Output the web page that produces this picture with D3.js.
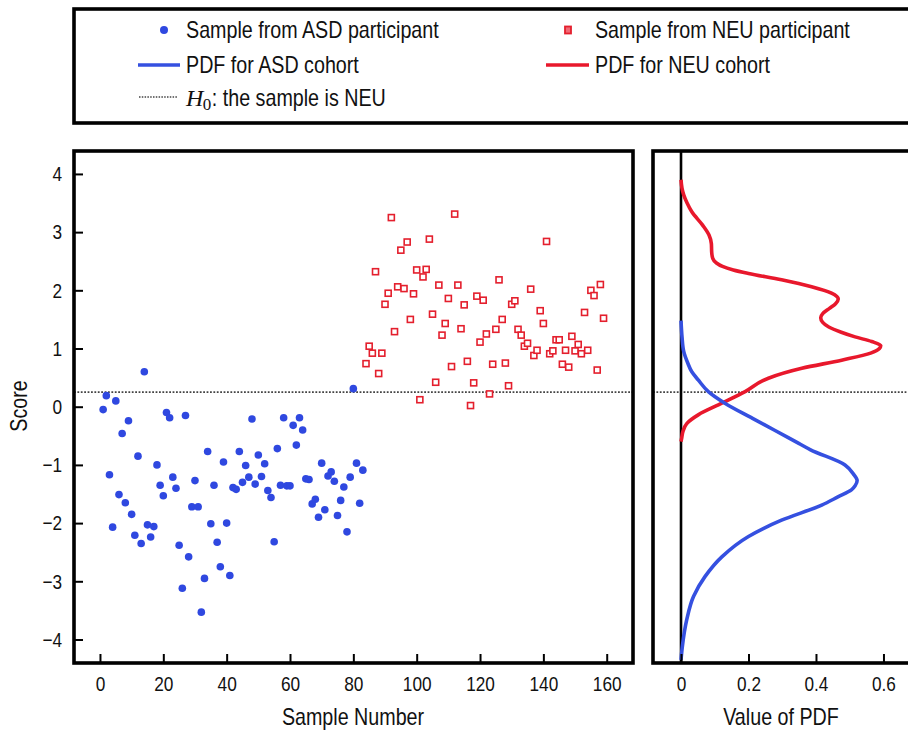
<!DOCTYPE html>
<html>
<head>
<meta charset="utf-8">
<script src="https://cdn.jsdelivr.net/npm/d3@7"></script>
<style>
  body { margin: 0; background: #fff; }
  svg { display: block; font-family: "Liberation Sans", Arial, Helvetica, sans-serif; }
</style>
</head>
<body>
<script>
// Scores of individual samples (sample number starts at 1 for ASD, 84 for NEU)
const asdStart = 1;
const asdScore = [
  -0.05, 0.19, -1.17, -2.07, 0.10, -1.51, -0.46, -1.65, -0.24, -1.85,
  -2.21, -0.85, -2.35, 0.60, -2.03, -2.24, -2.06, -1.00, -1.35, -1.53,
  -0.10, -0.19, -1.21, -1.40, -2.38, -3.12, -0.15, -2.58, -1.72, -1.27,
  -1.72, -3.53, -2.95, -0.77, -2.01, -1.35, -2.33, -2.75, -0.95, -2.00,
  -2.90, -1.39, -1.42, -0.77, -1.30, -1.01, -1.21, -0.21, -1.33, -0.83,
  -1.20, -0.98, -1.44, -1.56, -2.32, -0.72, -1.35, -0.19, -1.36, -1.36,
  -0.32, -0.66, -0.19, -0.40, -1.24, -1.25, -1.67, -1.59, -1.90, -0.97,
  -1.77, -1.19, -1.12, -1.28, -1.87, -1.61, -1.38, -2.15, -1.21, 0.31,
  -0.97, -1.66, -1.09
];
const neuStart = 84;
const neuScore = [
  0.74, 1.04, 0.92, 2.32, 0.57, 0.92, 1.76, 1.95, 3.25, 1.29,
  2.06, 2.69, 2.03, 2.83, 1.50, 1.94, 2.35, 0.12, 2.23, 2.36,
  2.88, 1.59, 0.42, 2.09, 1.23, 1.43, 1.86, 0.69, 3.31, 2.09,
  1.34, 1.75, 0.78, 0.02, 0.41, 1.90, 1.11, 1.83, 1.25, 0.22,
  0.73, 1.33, 2.18, 1.50, 0.75, 0.36, 1.76, 1.82, 1.33, 1.23,
  1.04, 1.09, 2.02, 0.88, 0.97, 1.65, 1.43, 2.84, 0.91, 0.96,
  1.15, 1.15, 0.73, 0.97, 0.68, 1.21, 0.96, 1.07, 0.91, 1.62,
  0.97, 2.00, 1.91, 0.63, 2.10, 1.52
];

// Cohort probability density functions, sampled along the score axis
const asdPdfScore = [1.48, 1.20, 0.95, 0.75, 0.60, 0.46, 0.26, 0.06, -0.20, -0.40,
  -0.63, -0.74, -1.00, -1.15, -1.27, -1.36, -1.43, -1.55, -1.69, -1.95,
  -2.23, -2.58, -2.92, -3.26, -3.66, -4.12, -4.35];
const asdPdfValue = [0.000, 0.003, 0.008, 0.020, 0.032, 0.051, 0.081, 0.130, 0.212, 0.276,
  0.349, 0.384, 0.486, 0.510, 0.522, 0.516, 0.505, 0.465, 0.417, 0.298,
  0.200, 0.121, 0.071, 0.037, 0.017, 0.004, 0.000];

const neuPdfScore = [3.90, 3.75, 3.64, 3.50, 3.35, 3.12, 2.95, 2.80, 2.65, 2.55,
  2.47, 2.41, 2.35, 2.29, 2.18, 2.06, 1.95, 1.85, 1.77, 1.69,
  1.60, 1.53, 1.45, 1.37, 1.28, 1.20, 1.12, 1.05, 1.00, 0.92,
  0.80, 0.66, 0.49, 0.26, 0.06, -0.14, -0.29, -0.42, -0.54, -0.60];
const neuPdfValue = [0.000, 0.003, 0.008, 0.018, 0.032, 0.064, 0.083, 0.090, 0.091, 0.094,
  0.105, 0.123, 0.155, 0.200, 0.298, 0.387, 0.446, 0.466, 0.458, 0.440,
  0.420, 0.414, 0.420, 0.438, 0.475, 0.516, 0.565, 0.592, 0.588, 0.562,
  0.476, 0.358, 0.259, 0.190, 0.121, 0.051, 0.017, 0.006, 0.002, 0.000];

const threshold = 0.25;   // H0 decision line

const sampleTicks = [0, 20, 40, 60, 80, 100, 120, 140, 160];
const scoreTicks = [-4, -3, -2, -1, 0, 1, 2, 3, 4];
const pdfTicks = [0, 0.2, 0.4, 0.6];

const BLUE = "#2f48e0", RED = "#e41f2d";
const BLUE_LINE = "#3550e0", RED_LINE = "#e8182c";

const W = 908, H = 730;
const svg = d3.select("body").append("svg").attr("width", W).attr("height", H);

// condensed lettering (narrow sans face)
function narrow(node, k = 0.82) {
  const w = node.getComputedTextLength();
  node.setAttribute("textLength", (w * k).toFixed(1));
  node.setAttribute("lengthAdjust", "spacingAndGlyphs");
  return w * k;
}

// panel geometry
const L = { x0: 74, x1: 633, y0: 151, y1: 663 };
const R = { x0: 653, x1: 955, y0: 151, y1: 663 };

const xL = d3.scaleLinear().domain([-8.2, 168.3]).range([L.x0, L.x1]);
const y = d3.scaleLinear().domain([4.394, -4.404]).range([L.y0, L.y1]);
const xR = d3.scaleLinear().domain([-0.083, 0.812]).range([R.x0, R.x1]);

// ---- left panel: samples ----
const gL = svg.append("g");

gL.append("line")
  .attr("x1", L.x0).attr("x2", L.x1)
  .attr("y1", y(threshold)).attr("y2", y(threshold))
  .attr("stroke", "#444").attr("stroke-width", 1.8).attr("stroke-dasharray", "1.8,1.6");

const asdData = asdScore.map((s, i) => ({ n: asdStart + i, s }));
const neuData = neuScore.map((s, i) => ({ n: neuStart + i, s }));

gL.selectAll("circle.asd").data(asdData).join("circle")
  .attr("class", "asd")
  .attr("cx", d => xL(d.n)).attr("cy", d => y(d.s))
  .attr("r", 3.8).attr("fill", BLUE);

const sq = 6;
gL.selectAll("rect.neu").data(neuData).join("rect")
  .attr("class", "neu")
  .attr("x", d => xL(d.n) - sq / 2).attr("y", d => y(d.s) - sq / 2)
  .attr("width", sq).attr("height", sq)
  .attr("fill", "#fff").attr("stroke", RED).attr("stroke-width", 1.6);

// axes with inward ticks
const axL = gL.append("g").attr("transform", `translate(0,${L.y1})`)
  .call(d3.axisBottom(xL).tickValues(sampleTicks).tickSize(-9).tickPadding(13));
const ayL = gL.append("g").attr("transform", `translate(${L.x0},0)`)
  .call(d3.axisLeft(y).tickValues(scoreTicks).tickSize(-9).tickPadding(12));

gL.append("rect")
  .attr("x", L.x0).attr("y", L.y0).attr("width", L.x1 - L.x0).attr("height", L.y1 - L.y0)
  .attr("fill", "none").attr("stroke", "#000").attr("stroke-width", 3.6);

// ---- right panel: cohort PDFs ----
const gR = svg.append("g");

gR.append("line")
  .attr("x1", R.x0).attr("x2", W)
  .attr("y1", y(threshold)).attr("y2", y(threshold))
  .attr("stroke", "#444").attr("stroke-width", 1.8).attr("stroke-dasharray", "1.8,1.6");

gR.append("line")
  .attr("x1", xR(0)).attr("x2", xR(0)).attr("y1", R.y0).attr("y2", R.y1)
  .attr("stroke", "#000").attr("stroke-width", 2.6);

const pdfLine = d3.line()
  .x(d => xR(d.v)).y(d => y(d.s))
  .curve(d3.curveMonotoneY);

const asdPdf = asdPdfScore.map((s, i) => ({ s, v: asdPdfValue[i] })).reverse();
const neuPdf = neuPdfScore.map((s, i) => ({ s, v: neuPdfValue[i] })).reverse();

gR.append("path").datum(neuPdf).attr("d", pdfLine)
  .attr("fill", "none").attr("stroke", RED_LINE).attr("stroke-width", 3.6)
  .attr("stroke-linejoin", "round");
gR.append("path").datum(asdPdf).attr("d", pdfLine)
  .attr("fill", "none").attr("stroke", BLUE_LINE).attr("stroke-width", 3.6)
  .attr("stroke-linejoin", "round");

const axR = gR.append("g").attr("transform", `translate(0,${R.y1})`)
  .call(d3.axisBottom(xR).tickValues(pdfTicks).tickSize(-9).tickPadding(13)
    .tickFormat(d => d === 0 ? "0" : d3.format(".1f")(d)));

gR.append("rect")
  .attr("x", R.x0).attr("y", R.y0).attr("width", R.x1 - R.x0).attr("height", R.y1 - R.y0)
  .attr("fill", "none").attr("stroke", "#000").attr("stroke-width", 3.6);

// axis styling
[axL, ayL, axR].forEach(a => {
  a.select(".domain").remove();
  a.selectAll(".tick line").attr("stroke", "#000").attr("stroke-width", 2);
  a.selectAll(".tick text").attr("font-size", 21).attr("fill", "#111")
    .attr("font-family", '"Liberation Sans", Arial, sans-serif')
    .each(function () { narrow(this); });
});

// axis titles
[
  { tr: "translate(353,725)", t: "Sample Number" },
  { tr: "translate(781,725)", t: "Value of PDF" },
  { tr: "translate(27,406) rotate(-90)", t: "Score" }
].forEach(d => {
  svg.append("text").attr("transform", d.tr).attr("text-anchor", "middle")
    .attr("font-size", 24).attr("fill", "#111").text(d.t)
    .each(function () { narrow(this); });
});

// ---- legend ----
const lg = svg.append("g");
lg.append("rect").attr("x", 74).attr("y", 9).attr("width", 880).attr("height", 114)
  .attr("fill", "none").attr("stroke", "#000").attr("stroke-width", 3.6);

lg.append("circle").attr("cx", 164).attr("cy", 30).attr("r", 4).attr("fill", BLUE);
lg.append("rect").attr("x", 565).attr("y", 26.5).attr("width", 6).attr("height", 7)
  .attr("fill", "#f06a76").attr("stroke", RED).attr("stroke-width", 1.8);
lg.append("line").attr("x1", 138).attr("x2", 180).attr("y1", 65).attr("y2", 65)
  .attr("stroke", BLUE_LINE).attr("stroke-width", 3.6);
lg.append("line").attr("x1", 546).attr("x2", 589).attr("y1", 65).attr("y2", 65)
  .attr("stroke", RED_LINE).attr("stroke-width", 3.6);
lg.append("line").attr("x1", 139).attr("x2", 178).attr("y1", 97).attr("y2", 97)
  .attr("stroke", "#444").attr("stroke-width", 1.6).attr("stroke-dasharray", "1.5,1.3");

const legendText = [
  { x: 186, y: 38, t: "Sample from ASD participant" },
  { x: 595, y: 38, t: "Sample from NEU participant" },
  { x: 186, y: 73, t: "PDF for ASD cohort" },
  { x: 595, y: 73, t: "PDF for NEU cohort" }
];
lg.selectAll("text.lt").data(legendText).join("text").attr("class", "lt")
  .attr("x", d => d.x).attr("y", d => d.y)
  .attr("font-size", 24).attr("fill", "#111").text(d => d.t)
  .each(function () { narrow(this); });

// H0 entry: italic serif H, upright subscript 0, then the sans caption
const serif = '"Liberation Serif", "DejaVu Serif", serif';
let hx = 186;
const hH = lg.append("text").attr("x", hx).attr("y", 106).attr("font-size", 24)
  .attr("font-family", serif).attr("font-style", "italic").attr("fill", "#111").text("H");
hx += hH.node().getComputedTextLength() - 0.5;
const h0 = lg.append("text").attr("x", hx).attr("y", 110).attr("font-size", 17)
  .attr("font-family", serif).attr("fill", "#111").text("0");
hx += h0.node().getComputedTextLength() + 0.5;
lg.append("text").attr("x", hx).attr("y", 106).attr("font-size", 24).attr("fill", "#111")
  .text(": the sample is NEU")
  .each(function () { narrow(this); });
</script>
</body>
</html>
